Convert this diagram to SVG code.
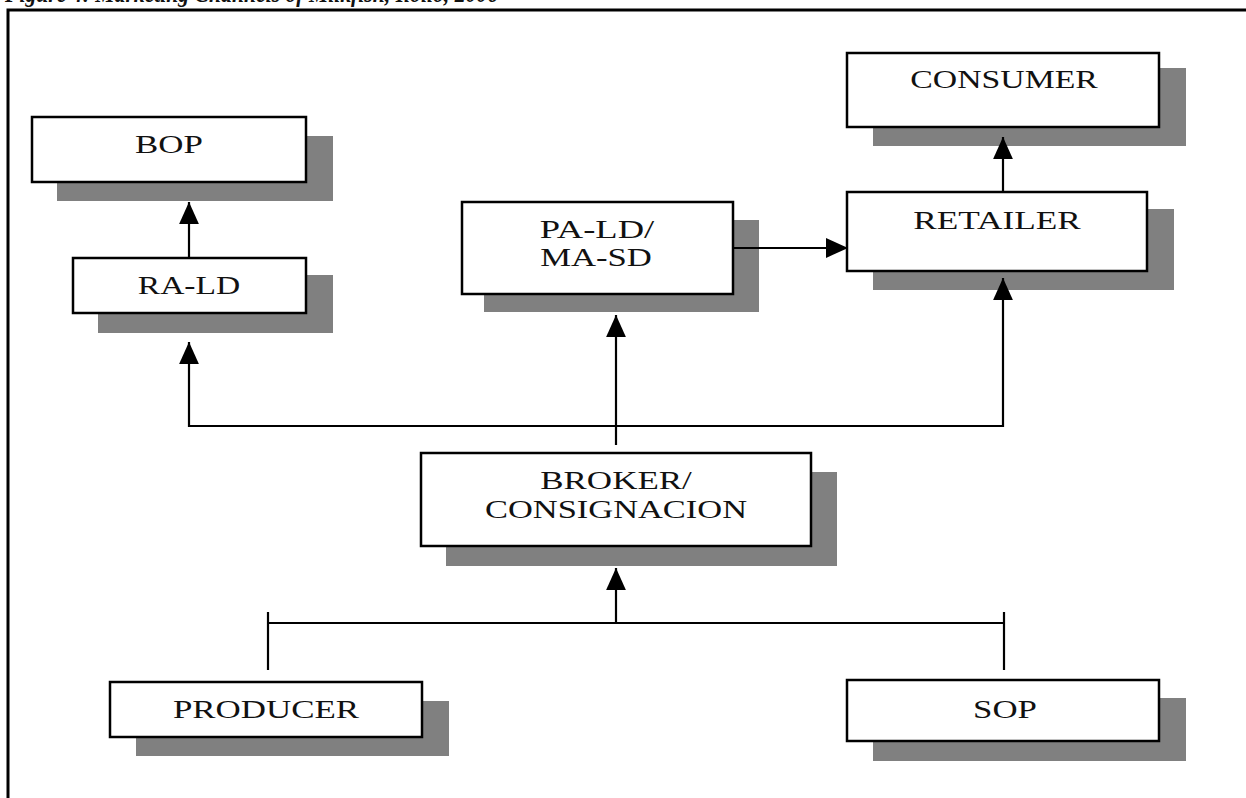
<svg xmlns="http://www.w3.org/2000/svg" width="1246" height="798" viewBox="0 0 1246 798">
  <style>
    .shadow { fill: #808080; }
    .box { fill: #ffffff; stroke: #000000; stroke-width: 2.5; }
    .label { font-family: "Liberation Serif", "Times New Roman", serif; font-size: 26px; fill: #111111; text-anchor: middle; }
    .link { fill: none; stroke: #000000; stroke-width: 2.2; }
    .frame { fill: none; stroke: #000000; stroke-width: 3; }
    .title { font-family: "Liberation Serif", "Times New Roman", serif; font-size: 26px; font-weight: bold; font-style: italic; fill: #111111; }
  </style>
  <defs>
    <marker id="arrow" markerUnits="userSpaceOnUse" markerWidth="22" markerHeight="22" viewBox="0 0 20 20" refX="20" refY="10" orient="auto">
      <path d="M0,1 L20,10 L0,19 Z" fill="#000000"/>
    </marker>
  </defs>

  <rect width="1246" height="798" fill="#ffffff"/>

  <!-- caption, clipped at the top edge -->
  <text class="title" x="5" y="2" textLength="493" lengthAdjust="spacingAndGlyphs">Figure 4: Marketing Channels of Milkfish, Iloilo, 2006</text>

  <!-- outer frame: top and left rules -->
  <path class="frame" d="M8,798 V10 H1246"/>

  <!-- labels use wide glyphs: stretched 1.33x horizontally -->
  <g id="bop">
    <rect class="shadow" x="57" y="136" width="276" height="65"/>
    <rect class="box" x="32" y="117" width="274" height="65"/>
    <text class="label" transform="translate(169,153) scale(1.33,1)" textLength="51" lengthAdjust="spacingAndGlyphs">BOP</text>
  </g>

  <g id="ra-ld">
    <rect class="shadow" x="98" y="275" width="235" height="58"/>
    <rect class="box" x="73" y="258" width="233" height="55"/>
    <text class="label" transform="translate(189,294) scale(1.33,1)" textLength="77" lengthAdjust="spacingAndGlyphs">RA-LD</text>
  </g>

  <g id="pa-ld-ma-sd">
    <rect class="shadow" x="484" y="220" width="275" height="92"/>
    <rect class="box" x="462" y="202" width="271" height="92"/>
    <text class="label" transform="translate(597,238) scale(1.33,1)" textLength="86" lengthAdjust="spacingAndGlyphs">PA-LD/</text>
    <text class="label" transform="translate(596,266) scale(1.33,1)" textLength="84" lengthAdjust="spacingAndGlyphs">MA-SD</text>
  </g>

  <g id="consumer">
    <rect class="shadow" x="873" y="68" width="313" height="78"/>
    <rect class="box" x="847" y="53" width="312" height="74"/>
    <text class="label" transform="translate(1004,88) scale(1.33,1)" textLength="141" lengthAdjust="spacingAndGlyphs">CONSUMER</text>
  </g>

  <g id="retailer">
    <rect class="shadow" x="873" y="209" width="301" height="81"/>
    <rect class="box" x="847" y="192" width="300" height="79"/>
    <text class="label" transform="translate(997,229) scale(1.33,1)" textLength="126" lengthAdjust="spacingAndGlyphs">RETAILER</text>
  </g>

  <g id="broker">
    <rect class="shadow" x="446" y="472" width="391" height="94"/>
    <rect class="box" x="421" y="453" width="390" height="93"/>
    <text class="label" transform="translate(616,489) scale(1.33,1)" textLength="114" lengthAdjust="spacingAndGlyphs">BROKER/</text>
    <text class="label" transform="translate(616,518) scale(1.33,1)" textLength="197" lengthAdjust="spacingAndGlyphs">CONSIGNACION</text>
  </g>

  <g id="producer">
    <rect class="shadow" x="136" y="701" width="313" height="55"/>
    <rect class="box" x="110" y="682" width="312" height="55"/>
    <text class="label" transform="translate(266,718) scale(1.33,1)" textLength="140" lengthAdjust="spacingAndGlyphs">PRODUCER</text>
  </g>

  <g id="sop">
    <rect class="shadow" x="873" y="698" width="313" height="63"/>
    <rect class="box" x="847" y="680" width="312" height="61"/>
    <text class="label" transform="translate(1005,718) scale(1.33,1)" textLength="48" lengthAdjust="spacingAndGlyphs">SOP</text>
  </g>

  <g id="connectors">
    <!-- RA-LD up to BOP -->
    <path class="link" d="M189,258 V202" marker-end="url(#arrow)"/>
    <!-- distribution bar above the broker -->
    <path class="link" d="M616,426 H189 V342" marker-end="url(#arrow)"/>
    <path class="link" d="M616,426 H1003 V278" marker-end="url(#arrow)"/>
    <path class="link" d="M616,445 V315" marker-end="url(#arrow)"/>
    <!-- PA-LD/MA-SD to retailer -->
    <path class="link" d="M733,248 H848" marker-end="url(#arrow)"/>
    <!-- retailer to consumer -->
    <path class="link" d="M1003,192 V137" marker-end="url(#arrow)"/>
    <!-- producers' bar into the broker -->
    <path class="link" d="M268,623 H1004"/>
    <path class="link" d="M268,612 V670"/>
    <path class="link" d="M1004,612 V670"/>
    <path class="link" d="M616,623 V568" marker-end="url(#arrow)"/>
  </g>
</svg>
